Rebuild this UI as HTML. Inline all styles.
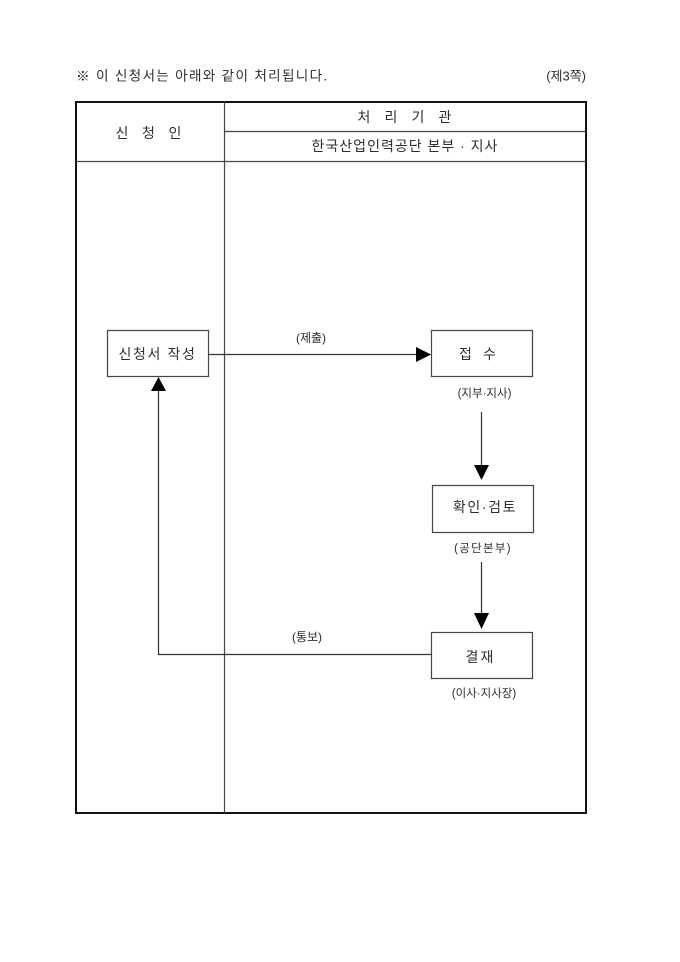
<!DOCTYPE html>
<html>
<head>
<meta charset="utf-8">
<style>
  html, body { margin:0; padding:0; background:#fff; }
  svg { display:block; }
  text { font-family: "Liberation Sans", "Noto Sans CJK KR", "NanumGothic", sans-serif; fill:#2e2e2e; dominant-baseline:central; }
</style>
</head>
<body>
<svg width="680" height="962" viewBox="0 0 680 962" xmlns="http://www.w3.org/2000/svg">
  <rect x="0" y="0" width="680" height="962" fill="#fff"/>

  <!-- title -->
  <text x="76" y="76" font-size="13.6" letter-spacing="1.3"><tspan font-weight="bold" fill="#000">※</tspan> 이 신청서는 아래와 같이 처리됩니다.</text>
  <text x="586" y="76" font-size="13" text-anchor="end">(제3쪽)</text>

  <!-- table -->
  <rect x="76" y="102" width="510" height="711" fill="none" stroke="#111" stroke-width="2"/>
  <line x1="224.5" y1="102" x2="224.5" y2="813" stroke="#444" stroke-width="1.2"/>
  <line x1="224" y1="131.5" x2="586" y2="131.5" stroke="#444" stroke-width="1.2"/>
  <line x1="76" y1="161.5" x2="586" y2="161.5" stroke="#444" stroke-width="1.2"/>

  <!-- header texts -->
  <text x="122" y="133" font-size="14" text-anchor="middle">신</text>
  <text x="148.5" y="133" font-size="14" text-anchor="middle">청</text>
  <text x="175" y="133" font-size="14" text-anchor="middle">인</text>

  <text x="364" y="117" font-size="14" text-anchor="middle">처</text>
  <text x="391" y="117" font-size="14" text-anchor="middle">리</text>
  <text x="418" y="117" font-size="14" text-anchor="middle">기</text>
  <text x="445" y="117" font-size="14" text-anchor="middle">관</text>

  <text x="405" y="146" font-size="14" text-anchor="middle" letter-spacing="1">한국산업인력공단 본부 · 지사</text>

  <!-- boxes -->
  <rect x="107.5" y="330.5" width="101" height="46" fill="#fff" stroke="#444" stroke-width="1.2"/>
  <text x="157.5" y="354" font-size="14" text-anchor="middle" letter-spacing="1.6">신청서 작성</text>

  <rect x="431.5" y="330.5" width="101" height="46" fill="#fff" stroke="#444" stroke-width="1.2"/>
  <text x="465.5" y="354" font-size="14" text-anchor="middle">접</text>
  <text x="489.5" y="354" font-size="14" text-anchor="middle">수</text>
  <text x="484.5" y="394" font-size="11.5" text-anchor="middle">(지부·지사)</text>

  <rect x="432.5" y="485.5" width="101" height="47" fill="#fff" stroke="#444" stroke-width="1.2"/>
  <text x="485" y="507" font-size="14" text-anchor="middle" letter-spacing="1.6">확인·검토</text>
  <text x="483" y="549" font-size="11.5" text-anchor="middle" letter-spacing="1.3">(공단본부)</text>

  <rect x="431.5" y="632.5" width="101" height="46" fill="#fff" stroke="#444" stroke-width="1.2"/>
  <text x="472" y="657" font-size="14" text-anchor="middle">결</text>
  <text x="487" y="657" font-size="14" text-anchor="middle">재</text>
  <text x="484" y="694" font-size="11.5" text-anchor="middle">(이사·지사장)</text>

  <!-- submit arrow -->
  <line x1="208.5" y1="354.5" x2="418" y2="354.5" stroke="#333" stroke-width="1.2"/>
  <polygon points="416,347 431,354.5 416,362" fill="#000"/>
  <text x="311" y="338" font-size="12" text-anchor="middle">(제출)</text>

  <!-- down arrow 1 -->
  <line x1="481.5" y1="412" x2="481.5" y2="466" stroke="#333" stroke-width="1.2"/>
  <polygon points="474,465 489,465 481.5,480" fill="#000"/>

  <!-- down arrow 2 -->
  <line x1="481.5" y1="562" x2="481.5" y2="614" stroke="#333" stroke-width="1.2"/>
  <polygon points="474,613 489,613 481.5,629" fill="#000"/>

  <!-- return arrow -->
  <polyline points="431.5,654.5 158.5,654.5 158.5,390" fill="none" stroke="#333" stroke-width="1.2"/>
  <polygon points="151,391 166,391 158.5,377" fill="#000"/>
  <text x="307" y="637" font-size="12" text-anchor="middle">(통보)</text>
</svg>
</body>
</html>
